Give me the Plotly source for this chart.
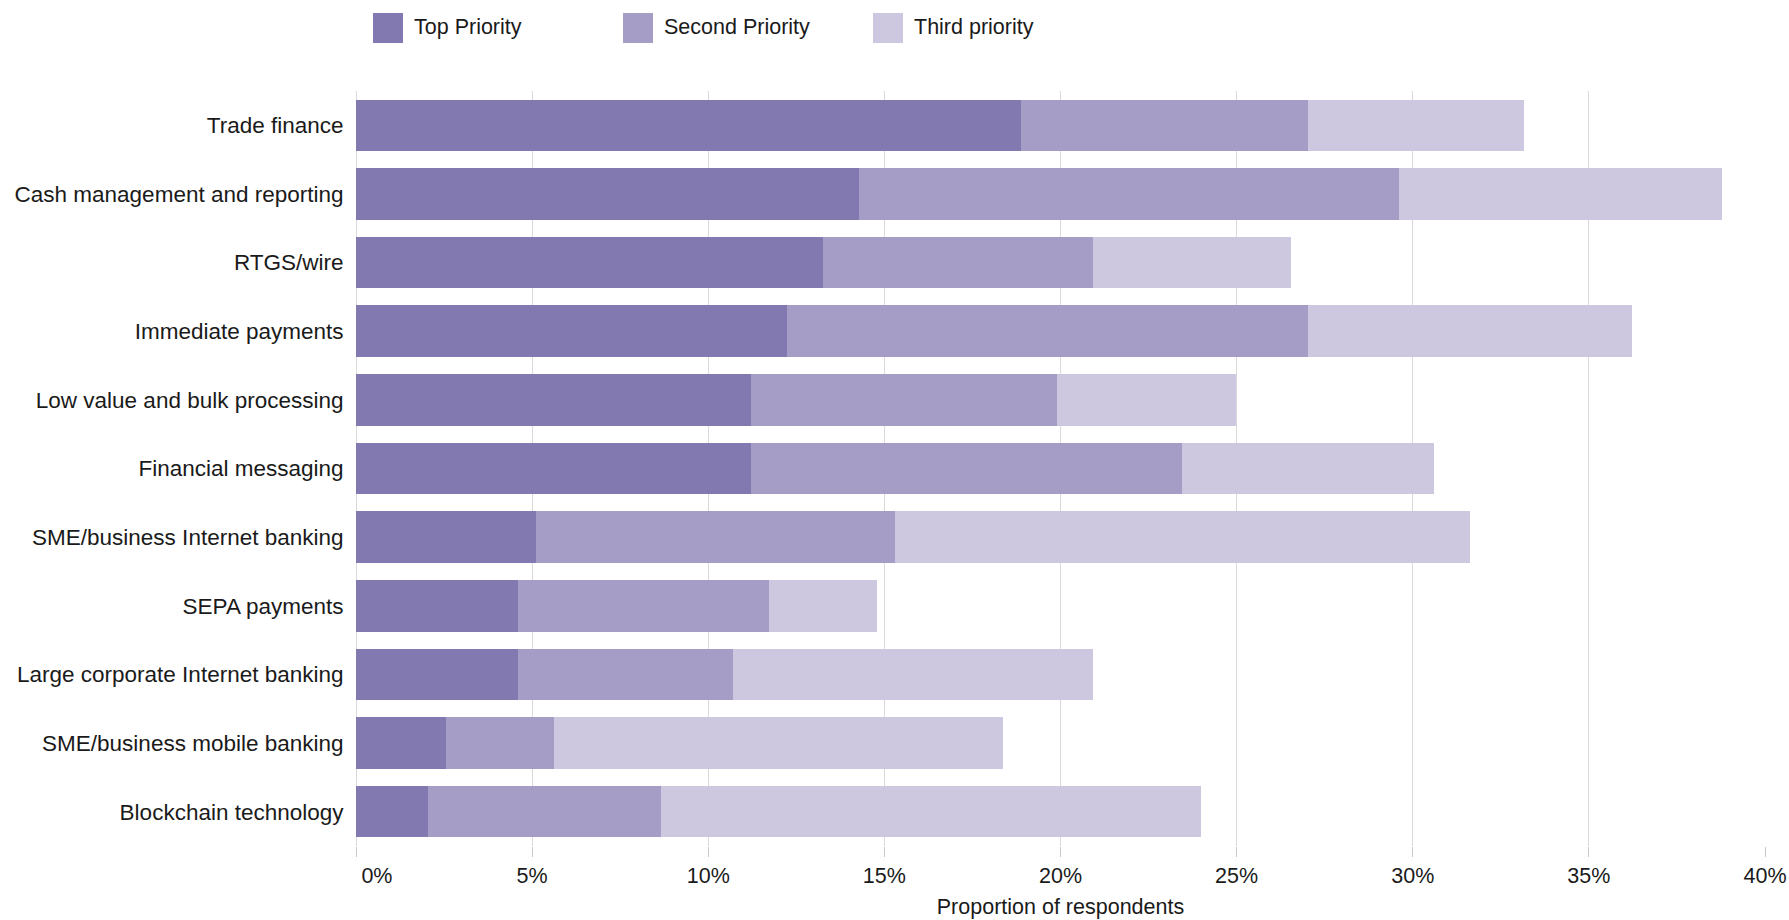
import plotly.graph_objects as go

# ---- data (percent of respondents) ----
categories = [
    "Trade finance",
    "Cash management and reporting",
    "RTGS/wire",
    "Immediate payments",
    "Low value and bulk processing",
    "Financial messaging",
    "SME/business Internet banking",
    "SEPA payments",
    "Large corporate Internet banking",
    "SME/business mobile banking",
    "Blockchain technology",
]
top_priority = [18.88, 14.29, 13.27, 12.24, 11.22, 11.22, 5.10, 4.59, 4.59, 2.55, 2.04]
second_priority = [8.16, 15.31, 7.65, 14.80, 8.67, 12.24, 10.20, 7.14, 6.12, 3.06, 6.63]
third_priority = [6.12, 9.18, 5.61, 9.18, 5.10, 7.14, 16.33, 3.06, 10.20, 12.76, 15.31]

series_names = ["Top Priority", "Second Priority", "Third priority"]
series_values = [top_priority, second_priority, third_priority]
series_colors = ["#8379b1", "#a59dc6", "#cdc8e0"]

tick_vals = [0, 5, 10, 15, 20, 25, 30, 35, 40]
tick_text = ["\u00a0" * 7 + "0%", "5%", "10%", "15%", "20%", "25%", "30%", "35%", "40%"]

FONT = "Liberation Sans, Arial, sans-serif"
TEXT = "#1a1a1a"
W, H = 1789, 920
L, R, T, B = 356, 24, 91, 74

fig = go.Figure()
for name, vals, col in zip(series_names, series_values, series_colors):
    fig.add_trace(go.Bar(
        y=categories, x=vals, name=name, orientation="h",
        marker=dict(color=col, line=dict(width=0)),
        showlegend=False,
    ))

# custom legend (large squares) in pixel positions converted to paper coords
pw, ph = W - L - R, H - T - B
def px(xp):
    return (xp - L) / pw
def py(yp):
    return (H - B - yp) / ph

legend_x = [373, 623, 873]
for x0, name, col in zip(legend_x, series_names, series_colors):
    fig.add_shape(type="rect", xref="paper", yref="paper",
                  x0=px(x0), x1=px(x0 + 30), y0=py(43), y1=py(13),
                  fillcolor=col, line=dict(width=0))
    fig.add_annotation(xref="paper", yref="paper", x=px(x0 + 39), y=py(27),
                       text=name, showarrow=False, xanchor="left", yanchor="middle",
                       font=dict(family=FONT, size=21.5, color=TEXT))

fig.update_layout(
    width=W, height=H,
    margin=dict(l=L, r=R, t=T, b=B, pad=0, autoexpand=False),
    paper_bgcolor="white", plot_bgcolor="white",
    barmode="stack", bargap=0.25,
    font=dict(family=FONT, size=22, color=TEXT),
)
fig.update_xaxes(
    range=[0, 40], tickvals=tick_vals, ticktext=tick_text,
    showgrid=True, gridcolor="#d9d9d9", gridwidth=1,
    zeroline=True, zerolinecolor="#d9d9d9", zerolinewidth=1,
    ticks="outside", ticklen=10, tickcolor="#c8c8c8", tickwidth=1,
    tickfont=dict(family=FONT, size=21.5, color=TEXT),
    title=dict(text="Proportion of respondents", standoff=12,
               font=dict(family=FONT, size=21.5, color=TEXT)),
    showline=False, fixedrange=True, automargin=False,
)
fig.update_yaxes(
    autorange="reversed", showgrid=False, zeroline=False, showline=False,
    ticks="outside", ticklen=7, tickcolor="rgba(0,0,0,0)",
    tickfont=dict(family=FONT, size=22.5, color=TEXT), fixedrange=True,
    automargin=False,
)

fig.write_html("out.html")
